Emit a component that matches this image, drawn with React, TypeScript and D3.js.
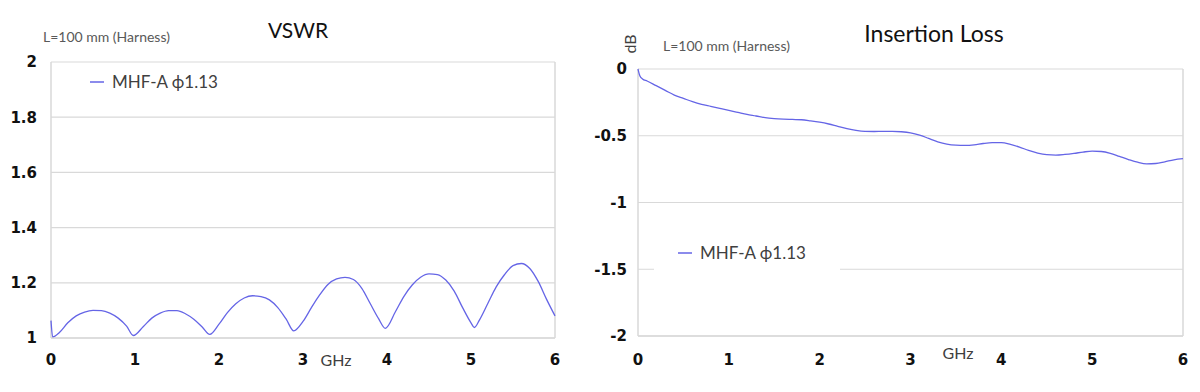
import React from 'react';
import * as d3 from 'd3';

// VSWR, L=100 mm harness
const vswrFreq = [0, 0.02, 0.1, 0.2, 0.3, 0.4, 0.5, 0.6, 0.7, 0.8, 0.9, 0.98,
  1.1, 1.2, 1.3, 1.4, 1.5, 1.6, 1.7, 1.8, 1.89,
  2.0, 2.1, 2.2, 2.3, 2.4, 2.5, 2.6, 2.7, 2.8, 2.89,
  3.0, 3.1, 3.2, 3.3, 3.4, 3.5, 3.6, 3.7, 3.8, 3.9, 3.98,
  4.1, 4.2, 4.3, 4.4, 4.5, 4.6, 4.7, 4.8, 4.9, 5.0, 5.04,
  5.1, 5.2, 5.3, 5.4, 5.5, 5.6, 5.7, 5.8, 5.9, 6.0];
const vswrValues = [1.063, 1.004, 1.02, 1.055, 1.08, 1.094, 1.1, 1.099, 1.09, 1.072, 1.043, 1.009,
  1.042, 1.072, 1.09, 1.099, 1.099, 1.088, 1.068, 1.04, 1.013,
  1.05, 1.092, 1.124, 1.145, 1.153, 1.15, 1.138, 1.11, 1.068, 1.026,
  1.06, 1.11, 1.157, 1.195, 1.214, 1.22, 1.212, 1.18, 1.125, 1.07, 1.035,
  1.095, 1.15, 1.192, 1.22, 1.232, 1.23, 1.21, 1.17, 1.11, 1.055, 1.038,
  1.065, 1.125, 1.185, 1.23, 1.262, 1.27, 1.252, 1.205, 1.14, 1.08];

// Insertion loss (dB)
const ilFreq = [0, 0.02, 0.05, 0.1, 0.2, 0.3, 0.4, 0.5, 0.6, 0.7, 0.8, 0.9,
  1.0, 1.1, 1.2, 1.3, 1.4, 1.5, 1.6, 1.7, 1.8, 1.9,
  2.0, 2.1, 2.2, 2.3, 2.4, 2.5, 2.6, 2.7, 2.8, 2.9,
  3.0, 3.1, 3.2, 3.3, 3.4, 3.5, 3.6, 3.7, 3.8, 3.9,
  4.0, 4.1, 4.2, 4.3, 4.4, 4.5, 4.6, 4.7, 4.8, 4.9,
  5.0, 5.1, 5.2, 5.3, 5.4, 5.5, 5.6, 5.7, 5.8, 5.9, 6.0];
const ilValues = [0, -0.05, -0.075, -0.09, -0.125, -0.16, -0.195, -0.22, -0.245, -0.265, -0.28, -0.295,
  -0.31, -0.325, -0.34, -0.352, -0.365, -0.372, -0.376, -0.378, -0.38, -0.388,
  -0.398, -0.412, -0.43, -0.447, -0.46, -0.467, -0.468, -0.467, -0.467, -0.47,
  -0.478, -0.495, -0.52, -0.545, -0.562, -0.57, -0.572, -0.568, -0.558, -0.552,
  -0.552, -0.565, -0.585, -0.61, -0.63, -0.642, -0.645, -0.64, -0.632, -0.622,
  -0.615, -0.618, -0.632, -0.655, -0.678, -0.698, -0.71, -0.708, -0.695, -0.68, -0.672];

const xTicks = [0, 1, 2, 3, 4, 5, 6];
const vswrTicks = [1, 1.2, 1.4, 1.6, 1.8, 2];
const vswrTickLabels = ['1', '1.2', '1.4', '1.6', '1.8', '2'];
const ilTicks = [0, -0.5, -1, -1.5, -2];
const ilTickLabels = ['0', '-0.5', '-1', '-1.5', '-2'];

const seriesName = 'MHF-A ϕ1.13';
const noteText = 'L=100 mm (Harness)';

const LINE = '#6565e6';
const GRID = '#d9d9d9';
const TICK_FONT = '"DejaVu Sans", Verdana, sans-serif';
const TEXT_FONT = 'Lato, "Open Sans", sans-serif';

type Panel = {
  freq: number[];
  values: number[];
  ticks: number[];
  tickLabels: string[];
  x: d3.ScaleLinear<number, number>;
  y: d3.ScaleLinear<number, number>;
  labelRight: number;
};

const Plot = ({ freq, values, ticks, tickLabels, x, y, labelRight }: Panel) => {
  const line = d3.line<number>()
    .x((_, i) => x(freq[i]))
    .y(d => y(d))
    .curve(d3.curveMonotoneX);
  const [x0, x1] = x.range();
  const [yb, yt] = y.range();
  return (
    <g>
      {ticks.map((t, i) => (
        <g key={'y' + i}>
          <line x1={x0} x2={x1} y1={y(t)} y2={y(t)} stroke={GRID} strokeWidth={1.2} />
          <text x={labelRight} y={y(t)} dy="0.36em" textAnchor="end"
            fontFamily={TICK_FONT} fontWeight="bold" fontSize={15} fill="#111">
            {tickLabels[i]}
          </text>
        </g>
      ))}
      <line x1={x0} x2={x0} y1={yt} y2={yb} stroke={GRID} strokeWidth={1.5} />
      <line x1={x1} x2={x1} y1={yt} y2={yb} stroke={GRID} strokeWidth={1.5} />
      <line x1={x0} x2={x1} y1={yb} y2={yb} stroke={GRID} strokeWidth={1.5} />
      {xTicks.map(t => (
        <text key={'x' + t} x={x(t)} y={365} textAnchor="middle"
          fontFamily={TICK_FONT} fontWeight="bold" fontSize={15} fill="#111">
          {t}
        </text>
      ))}
      <path d={line(values) || ''} fill="none" stroke={LINE} strokeWidth={1.3} />
    </g>
  );
};

const App = () => {
  const xL = d3.scaleLinear().domain([0, 6]).range([51, 555]);
  const yL = d3.scaleLinear().domain([1, 2]).range([338, 62]);
  const xR = d3.scaleLinear().domain([0, 6]).range([638, 1183]);
  const yR = d3.scaleLinear().domain([-2, 0]).range([336, 69]);

  return (
    <svg width={1200} height={392} style={{ position: 'absolute', left: 0, top: 0, background: '#fff' }}>
      <rect width={1200} height={392} fill="#fff" />

      {/* VSWR panel */}
      <text x={298} y={38} textAnchor="middle" fontFamily={TEXT_FONT} fontSize={21} fill="#111">VSWR</text>
      <text x={43} y={42} fontFamily={TEXT_FONT} fontSize={14} fill="#595959">{noteText}</text>
      <Plot freq={vswrFreq} values={vswrValues} ticks={vswrTicks} tickLabels={vswrTickLabels}
        x={xL} y={yL} labelRight={37} />
      <text x={336} y={366} textAnchor="middle" fontFamily={TEXT_FONT} fontSize={16} fill="#404040">GHz</text>
      <line x1={90} x2={104} y1={82} y2={82} stroke={LINE} strokeWidth={1.5} />
      <text x={112} y={88} fontFamily={TEXT_FONT} fontSize={17} fill="#404040">{seriesName}</text>

      {/* Insertion loss panel */}
      <text x={934} y={42} textAnchor="middle" fontFamily={TEXT_FONT} fontSize={23} fill="#111">Insertion Loss</text>
      <text x={663} y={51} fontFamily={TEXT_FONT} fontSize={14} fill="#595959">{noteText}</text>
      <text transform="translate(636,44) rotate(-90)" textAnchor="middle" fontFamily={TEXT_FONT}
        fontSize={16} fill="#404040">dB</text>
      <Plot freq={ilFreq} values={ilValues} ticks={ilTicks} tickLabels={ilTickLabels}
        x={xR} y={yR} labelRight={627} />
      <rect x={654} y={240} width={186} height={32} fill="#fff" />
      <text x={958} y={359} textAnchor="middle" fontFamily={TEXT_FONT} fontSize={16} fill="#404040">GHz</text>
      <line x1={678} x2={692} y1={253} y2={253} stroke={LINE} strokeWidth={1.5} />
      <text x={700} y={259} fontFamily={TEXT_FONT} fontSize={17} fill="#404040">{seriesName}</text>
    </svg>
  );
};

export default App;
